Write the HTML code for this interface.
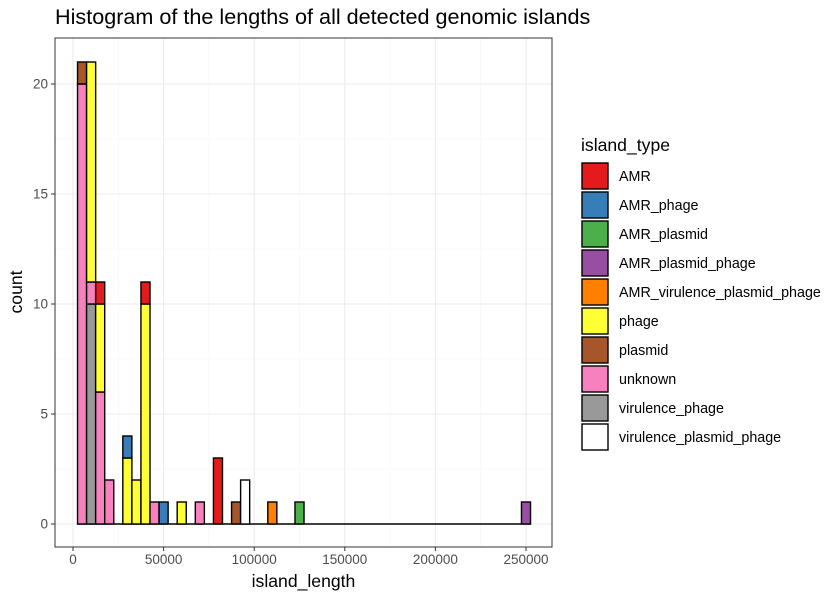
<!DOCTYPE html>
<html><head><meta charset="utf-8"><style>
body{margin:0;background:#fff;font-family:"Liberation Sans",Arial,sans-serif;}
</style></head><body>
<svg id="chart" width="840" height="600" xmlns="http://www.w3.org/2000/svg" font-family="Liberation Sans, Arial, sans-serif">
<text x="55" y="24" font-size="21.6" fill="#000">Histogram of the lengths of all detected genomic islands</text>
<g id="grid"></g><g id="bars"></g><g id="axes"></g><g id="legend"></g>
</svg>
<script>
const types=["AMR","AMR_phage","AMR_plasmid","AMR_plasmid_phage","AMR_virulence_plasmid_phage","phage","plasmid","unknown","virulence_phage","virulence_plasmid_phage"];
const colors=["#E41A1C","#377EB8","#4DAF4A","#984EA3","#FF7F00","#FFFF33","#A65628","#F781BF","#999999","#FFFFFF"];
const binCenters=[5000,10000,15000,20000,30000,35000,40000,45000,50000,60000,70000,80000,90000,95000,110000,125000,250000];
// counts per bin, one entry per island_type (same order as types)
const counts=[
[0,0,0,0,0,0,1,20,0,0],
[0,0,0,0,0,10,0,1,10,0],
[1,0,0,0,0,4,0,6,0,0],
[0,0,0,0,0,0,0,2,0,0],
[0,1,0,0,0,3,0,0,0,0],
[0,0,0,0,0,2,0,0,0,0],
[1,0,0,0,0,10,0,0,0,0],
[0,0,0,0,0,0,0,1,0,0],
[0,1,0,0,0,0,0,0,0,0],
[0,0,0,0,0,1,0,0,0,0],
[0,0,0,0,0,0,0,1,0,0],
[3,0,0,0,0,0,0,0,0,0],
[0,0,0,0,0,0,1,0,0,0],
[0,0,0,0,0,0,0,0,0,2],
[0,0,0,0,1,0,0,0,0,0],
[0,0,1,0,0,0,0,0,0,0],
[0,0,0,1,0,0,0,0,0,0]];
const binWidth=5000;
const xTicks=[0,50000,100000,150000,200000,250000];
const yTicks=[0,5,10,15,20];
const NS="http://www.w3.org/2000/svg";
const L=55,R=552,T=38,B=547;
const x=v=>73+v*(453/250000);
const y=v=>524-v*22;
function mk(tag,at,parent){const e=document.createElementNS(NS,tag);for(const k in at)e.setAttribute(k,at[k]);document.getElementById(parent).appendChild(e);return e;}
for(let i=0;i<xTicks.length;i++){
 const g=mk('line',{x1:x(xTicks[i]),x2:x(xTicks[i]),y1:T,y2:B,stroke:'#EBEBEB','stroke-width':1.1},'grid');
 
 if(i<xTicks.length-1){const m=(xTicks[i]+xTicks[i+1])/2;const g2=mk('line',{x1:x(m),x2:x(m),y1:T,y2:B,stroke:'#F5F5F5','stroke-width':0.6},'grid');
 }
}
for(let i=0;i<yTicks.length;i++){
 const g=mk('line',{x1:L,x2:R,y1:y(yTicks[i]),y2:y(yTicks[i]),stroke:'#EBEBEB','stroke-width':1.1},'grid');
 
 if(i<yTicks.length-1){const m=(yTicks[i]+yTicks[i+1])/2;const g2=mk('line',{x1:L,x2:R,y1:y(m),y2:y(m),stroke:'#F5F5F5','stroke-width':0.6},'grid');
 }
}
const bl=mk('line',{x1:x(binCenters[0]-binWidth/2),x2:x(binCenters[binCenters.length-1]+binWidth/2),y1:y(0),y2:y(0),stroke:'#000','stroke-width':1.4},'bars');

binCenters.forEach((c,bi)=>{
 let cum=0;
 for(let t=types.length-1;t>=0;t--){
  const n=counts[bi][t];if(!n)continue;
  const r=mk('rect',{x:x(c-binWidth/2),width:x(c+binWidth/2)-x(c-binWidth/2),y:y(cum+n),height:y(cum)-y(cum+n),fill:colors[t],stroke:'#000','stroke-width':1.4},'bars');
  
  
  cum+=n;
 }
});
const pb=mk('rect',{x:L,y:T,width:R-L,height:B-T,fill:'none',stroke:'#333','stroke-width':1},'axes');

xTicks.forEach(v=>{
 mk('line',{x1:x(v),x2:x(v),y1:B,y2:B+4,stroke:'#333'},'axes');
 const t=mk('text',{x:x(v),y:B+17,'font-size':13.5,fill:'#4D4D4D','text-anchor':'middle'},'axes');t.textContent=v;
 
});
yTicks.forEach(v=>{
 mk('line',{x1:L-4,x2:L,y1:y(v),y2:y(v),stroke:'#333'},'axes');
 const t=mk('text',{x:L-7,y:y(v)+4.5,'font-size':13.5,fill:'#4D4D4D','text-anchor':'end'},'axes');t.textContent=v;
 
});
const xt=mk('text',{x:(L+R)/2,y:587,'font-size':17.6,'text-anchor':'middle'},'axes');xt.textContent='island_length';

const yt=mk('text',{x:0,y:0,'font-size':17.6,'text-anchor':'middle',transform:'translate(22,292) rotate(-90)'},'axes');yt.textContent='count';

const lt=mk('text',{x:581,y:151,'font-size':17.6},'legend');lt.textContent='island_type';

types.forEach((tp,i)=>{
 const ky=163+i*29;
 const r=mk('rect',{x:582,y:ky,width:26,height:26,fill:colors[i],stroke:'#000','stroke-width':1.4},'legend');
 
 const t=mk('text',{x:619,y:ky+18,'font-size':14.3},'legend');t.textContent=tp;
 
});
</script>
</body></html>
